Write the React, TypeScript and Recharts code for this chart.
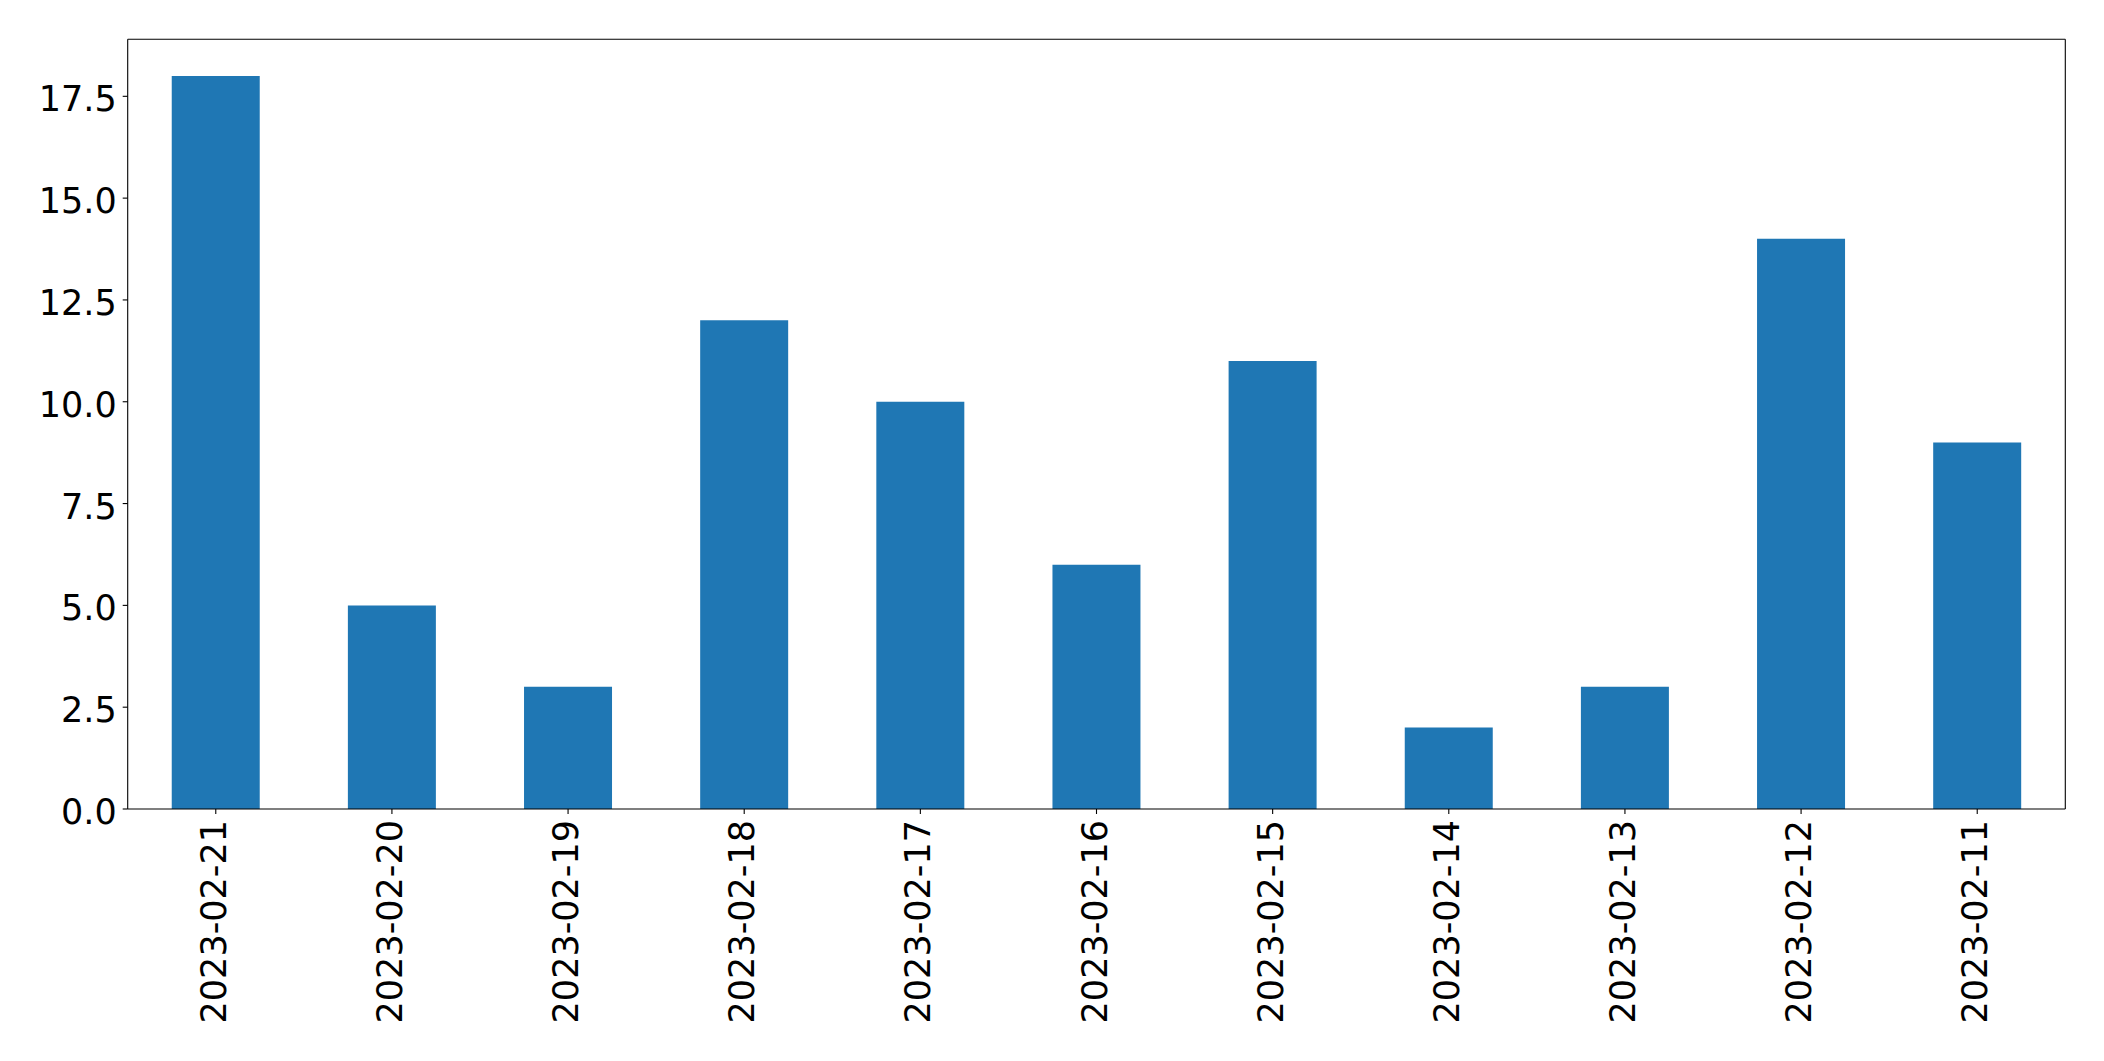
import React from 'react'
import { BarChart, Bar, XAxis, YAxis, CartesianGrid } from 'recharts'

const dates = [
  '2023-02-21',
  '2023-02-20',
  '2023-02-19',
  '2023-02-18',
  '2023-02-17',
  '2023-02-16',
  '2023-02-15',
  '2023-02-14',
  '2023-02-13',
  '2023-02-12',
  '2023-02-11',
]
const counts = [18, 5, 3, 12, 10, 6, 11, 2, 3, 14, 9]
const yTicks = [0, 2.5, 5, 7.5, 10, 12.5, 15, 17.5]

const data = dates.map((d, i) => ({ date: d, count: counts[i] }))

const font = '"DejaVu Sans", sans-serif'
const fontSize = 35

// rotated date labels, reading bottom to top like matplotlib rot=90
function DateTick(props: any) {
  const { x, y, payload } = props
  return (
    <text
      x={x}
      y={y}
      transform={`rotate(-90, ${x}, ${y})`}
      textAnchor="end"
      dy="0.29em"
      fill="#000"
      fontFamily={font}
      fontSize={fontSize}
    >
      {payload.value}
    </text>
  )
}

function ValueTick(props: any) {
  const { x, y, payload } = props
  return (
    <text x={x} y={y} textAnchor="end" dy="0.43em" fill="#000" fontFamily={font} fontSize={fontSize}>
      {payload.value.toFixed(1)}
    </text>
  )
}

export default function App() {
  return (
    <div style={{ position: 'absolute', left: 0, top: 0, width: 2104, height: 1061, background: '#fff' }}>
      <BarChart
        width={2104}
        height={1061}
        data={data}
        margin={{ top: 39.3, right: 38.7, left: 27.7, bottom: 12 }}
        barCategoryGap="25%"
      >
        {/* top and right spines */}
        <CartesianGrid
          stroke="#000"
          strokeWidth={1.1}
          horizontalCoordinatesGenerator={({ offset }: any) => [offset.top]}
          verticalCoordinatesGenerator={({ offset }: any) => [offset.left + offset.width]}
        />
        <XAxis
          dataKey="date"
          height={240}
          interval={0}
          tick={<DateTick />}
          tickSize={5}
          tickMargin={6}
          axisLine={{ stroke: '#000', strokeWidth: 1.1 }}
          tickLine={{ stroke: '#000', strokeWidth: 1.1 }}
        />
        <YAxis
          width={100}
          domain={[0, 18.9]}
          ticks={yTicks}
          interval={0}
          tickSize={5}
          tickMargin={6}
          tick={<ValueTick />}
          axisLine={{ stroke: '#000', strokeWidth: 1.1 }}
          tickLine={{ stroke: '#000', strokeWidth: 1.1 }}
        />
        <Bar dataKey="count" fill="#1f77b4" isAnimationActive={false} />
      </BarChart>
    </div>
  )
}
